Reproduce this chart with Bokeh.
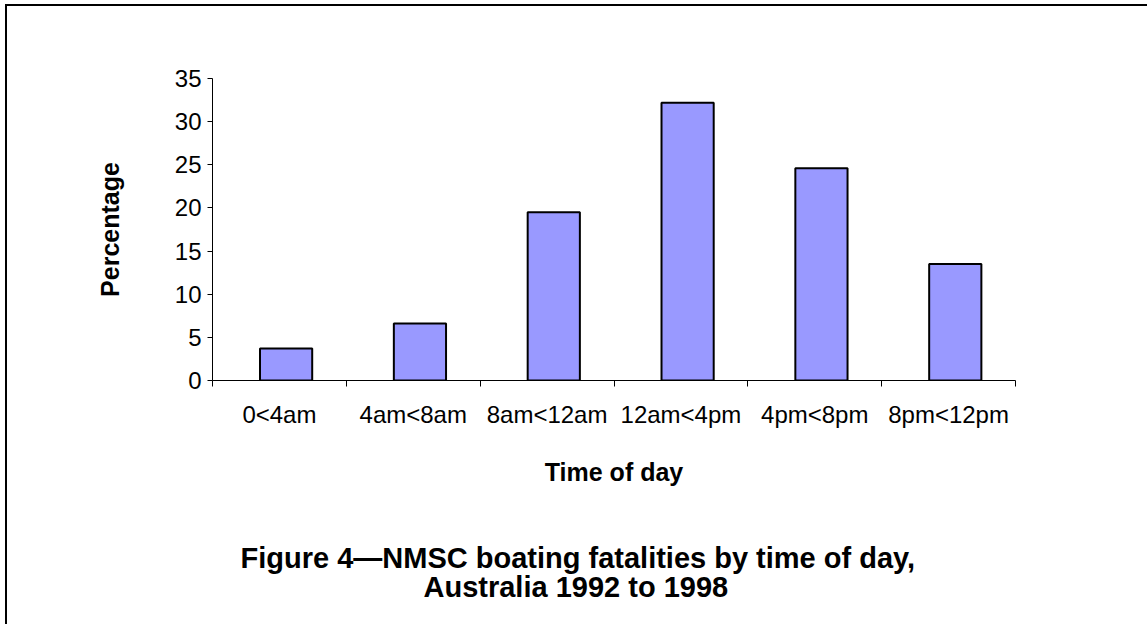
from bokeh.plotting import figure
from bokeh.models import Range1d, FixedTicker, ColumnDataSource, Title
from bokeh.transform import dodge
from bokeh.embed import file_html
from bokeh.resources import INLINE

# Share of boating fatalities by time of day (NMSC, Australia 1992-1998)
periods = ["0<4am", "4am<8am", "8am<12am", "12am<4pm", "4pm<8pm", "8pm<12pm"]
percent = [3.7, 6.6, 19.5, 32.2, 24.6, 13.5]
y_ticks = [0, 5, 10, 15, 20, 25, 30, 35]
title_lines = ["Figure 4\u2014NMSC boating fatalities by time of day,",
               "Australia 1992 to 1998"]

FONT = "Liberation Sans"

centers = [i + 0.5 for i in range(len(periods))]
source = ColumnDataSource(data=dict(x=centers, top=percent))

p = figure(width=1147, height=624, output_backend="svg", toolbar_location=None,
           x_range=Range1d(0, len(periods)), y_range=Range1d(0, 35),
           min_border_left=212, min_border_right=132,
           min_border_top=78, min_border_bottom=244)
# page frame: inset shadows leave a thin black rule along the left and top
p.styles = {"background": "white",
            "box-shadow": "inset 5px 4px 0 0 white, inset 7px 6px 0 0 black"}
p.border_fill_color = None
p.background_fill_color = "white"
p.outline_line_color = None
p.xgrid.visible = False
p.ygrid.visible = False

p.vbar(x=dodge("x", 0.05, range=p.x_range), top="top", bottom=0, width=0.39,
       source=source, fill_color="#9999FF", line_color="black", line_width=2)

# y axis
yax = p.yaxis[0]
yax.ticker = FixedTicker(ticks=y_ticks)
yax.major_tick_out = 5
yax.major_tick_in = 0
yax.minor_tick_out = 0
yax.minor_tick_in = 0
yax.axis_line_color = "black"
yax.major_tick_line_color = "black"
yax.major_label_text_font = FONT
yax.major_label_text_font_size = "24px"
yax.major_label_text_color = "black"
yax.major_label_standoff = 6
yax.axis_label = "Percentage"
yax.axis_label_text_font = FONT
yax.axis_label_text_font_style = "bold"
yax.axis_label_text_font_size = "25px"
yax.axis_label_text_color = "black"
yax.axis_label_standoff = 48

# x axis: labels at category centres, tick marks at category boundaries
xax = p.xaxis[0]
xax.ticker = FixedTicker(ticks=centers, minor_ticks=list(range(len(periods) + 1)))
xax.major_label_overrides = {c: lab for c, lab in zip(centers, periods)}
xax.major_tick_out = 0
xax.major_tick_in = 0
xax.minor_tick_out = 6
xax.minor_tick_in = 0
xax.minor_tick_line_color = "black"
xax.axis_line_color = "black"
xax.major_label_text_font = FONT
xax.major_label_text_font_size = "24px"
xax.major_label_text_color = "black"
xax.major_label_standoff = 14
xax.axis_label = "Time of day"
xax.axis_label_text_font = FONT
xax.axis_label_text_font_style = "bold"
xax.axis_label_text_font_size = "25px"
xax.axis_label_text_color = "black"
xax.axis_label_standoff = 27

# blank spacer between the axis title and the caption
p.add_layout(Title(text=" ", standoff=48, text_font_size="1px"), "below")

# figure caption, two lines under the x axis
for line, off, gap in zip(title_lines, [28, 211], [0, -10]):
    p.add_layout(Title(text=line, align="left", offset=off, standoff=gap,
                       text_font=FONT, text_font_style="bold",
                       text_font_size="29px", text_color="black"), "below")

open("out.html", "w").write(file_html(p, INLINE))
